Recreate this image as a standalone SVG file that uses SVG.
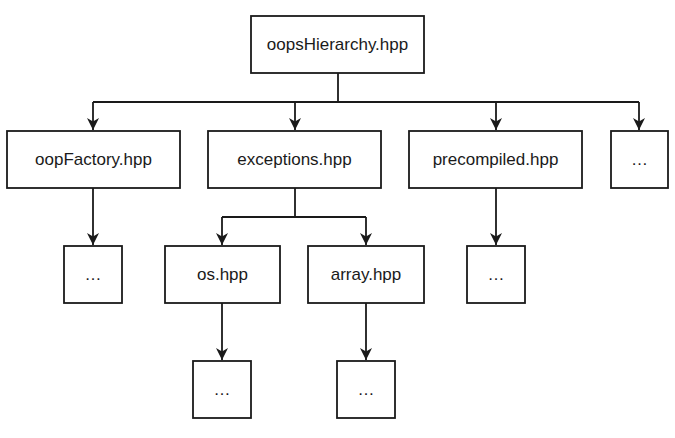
<svg xmlns="http://www.w3.org/2000/svg" width="675" height="438" viewBox="0 0 675 438">
<defs>
<marker id="arr" viewBox="0 0 10 10" refX="10" refY="5" markerWidth="12" markerHeight="12" markerUnits="userSpaceOnUse" orient="auto">
<path d="M0,0 L10,5 L0,10 L3,5 Z" fill="#1a1a1a"/>
</marker>
<style>
.box{fill:#fff;stroke:#1a1a1a;stroke-width:1.8}
.lbl{font-family:"Liberation Sans",Arial,sans-serif;font-size:17px;fill:#1a1a1a;text-anchor:middle;dominant-baseline:central}
.ln{fill:none;stroke:#1a1a1a;stroke-width:1.8}
</style>
</defs>
<rect width="675" height="438" fill="#fff"/>
<g id="connectors">
<path class="ln" d="M338,73 V102"/>
<path class="ln" d="M93,102 H639"/>
<path class="ln" d="M93,102 V130" marker-end="url(#arr)"/>
<path class="ln" d="M295,102 V130" marker-end="url(#arr)"/>
<path class="ln" d="M496,102 V130" marker-end="url(#arr)"/>
<path class="ln" d="M639,102 V130" marker-end="url(#arr)"/>
<path class="ln" d="M93,188 V245" marker-end="url(#arr)"/>
<path class="ln" d="M295,188 V217"/>
<path class="ln" d="M222,217 H366"/>
<path class="ln" d="M222,217 V245" marker-end="url(#arr)"/>
<path class="ln" d="M366,217 V245" marker-end="url(#arr)"/>
<path class="ln" d="M496,188 V245" marker-end="url(#arr)"/>
<path class="ln" d="M222,303 V360" marker-end="url(#arr)"/>
<path class="ln" d="M366,303 V360" marker-end="url(#arr)"/>
</g>
<g id="root"><rect class="box" x="251" y="16" width="173" height="57"/><text class="lbl" x="337.5" y="44.5">oopsHierarchy.hpp</text></g>
<g id="oopFactory"><rect class="box" x="7" y="131" width="173" height="57"/><text class="lbl" x="93.5" y="159.5">oopFactory.hpp</text></g>
<g id="exceptions"><rect class="box" x="208" y="131" width="173" height="57"/><text class="lbl" x="294.5" y="159.5">exceptions.hpp</text></g>
<g id="precompiled"><rect class="box" x="409" y="131" width="173" height="57"/><text class="lbl" x="495.5" y="159.5">precompiled.hpp</text></g>
<g id="more1"><rect class="box" x="611" y="131" width="57" height="57"/><text class="lbl" x="639.5" y="159.5">…</text></g>
<g id="more2"><rect class="box" x="64" y="246" width="58" height="57"/><text class="lbl" x="93" y="274.5">…</text></g>
<g id="os"><rect class="box" x="165" y="246" width="115" height="57"/><text class="lbl" x="222.5" y="274.5">os.hpp</text></g>
<g id="array"><rect class="box" x="308" y="246" width="116" height="57"/><text class="lbl" x="366" y="274.5">array.hpp</text></g>
<g id="more3"><rect class="box" x="467" y="246" width="58" height="57"/><text class="lbl" x="496" y="274.5">…</text></g>
<g id="more4"><rect class="box" x="193" y="361" width="58" height="57"/><text class="lbl" x="222" y="389.5">…</text></g>
<g id="more5"><rect class="box" x="337" y="361" width="58" height="57"/><text class="lbl" x="366" y="389.5">…</text></g>
</svg>
